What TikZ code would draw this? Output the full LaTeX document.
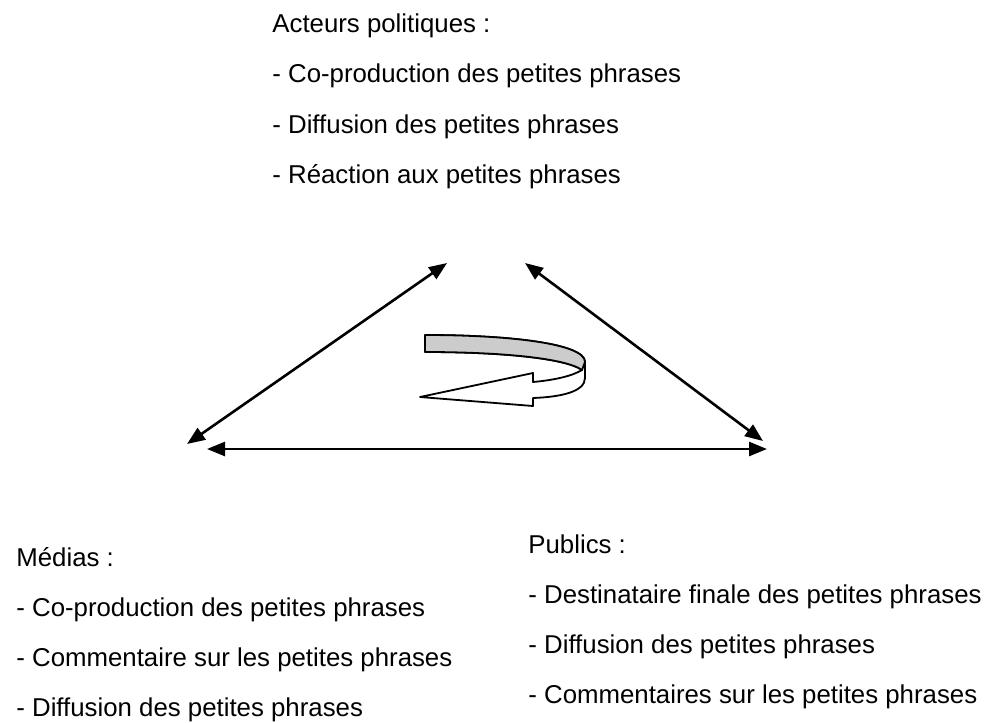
\documentclass[tikz,border=0pt]{standalone}
\usepackage{fontspec}
\setmainfont{Liberation Sans}
\usepackage{xcolor}
\definecolor{ribbon}{rgb}{0.80,0.80,0.80}
\usetikzlibrary{arrows.meta, positioning}

\begin{document}
\begin{tikzpicture}
[x=0.5pt, y=-0.5pt,
 >={Triangle[length=9pt,width=7pt]},
 node distance=25pt,
 txt/.style={anchor=base west, inner sep=0pt,
 font=\fontsize{12.9}{15}\selectfont},
 link/.style={<->, line width=1.3pt},
 turn/.style={line width=0.9pt, line join=round},
]
\useasboundingbox (0,0) rectangle (988,722);

% actors at the top
\node[txt] (acteurs) at (272,33) {Acteurs politiques :};
\node[txt, below=of acteurs.base west, anchor=base west] (act1) {- Co-production des petites phrases};
\node[txt, below=of act1.base west, anchor=base west] (act2) {- Diffusion des petites phrases};
\node[txt, below=of act2.base west, anchor=base west] (act3) {- Réaction aux petites phrases};

% media, bottom left
\node[txt] (medias) at (16,566) {Médias :};
\node[txt, below=of medias.base west, anchor=base west] (med1) {- Co-production des petites phrases};
\node[txt, below=of med1.base west, anchor=base west] (med2) {- Commentaire sur les petites phrases};
\node[txt, below=of med2.base west, anchor=base west] (med3) {- Diffusion des petites phrases};

% publics, bottom right
\node[txt] (publics) at (528,553) {Publics :};
\node[txt, below=of publics.base west, anchor=base west] (pub1) {- Destinataire finale des petites phrases};
\node[txt, below=of pub1.base west, anchor=base west] (pub2) {- Diffusion des petites phrases};
\node[txt, below=of pub2.base west, anchor=base west] (pub3) {- Commentaires sur les petites phrases};

% triangle corners
\coordinate (apexL) at (447,263);
\coordinate (apexR) at (525,263);
\coordinate (baseL) at (187,444);
\coordinate (baseR) at (763,441);
\coordinate (floorL) at (207,449);
\coordinate (floorR) at (767,449);

\draw[link] (baseL) -- (apexL);
\draw[link] (apexR) -- (baseR);
\draw[link] (floorL) -- (floorR);

% turning arrow in the middle
\draw[turn, fill=white]
  (425,335) .. controls (505,335) and (585,343) .. (585,362)
  -- (585,378) .. controls (585,392) and (560,397) .. (533,398)
  -- (533,406) -- (420,397) -- (533,373) -- (533,382)
  .. controls (555,380) and (572,376) .. (582,370)
  .. controls (565,358) and (500,352) .. (425,352) -- cycle;
\draw[turn, fill=ribbon]
  (425,335) .. controls (505,335) and (585,343) .. (585,362)
  -- (582,370) .. controls (565,358) and (500,352) .. (425,352) -- cycle;
\end{tikzpicture}
\end{document}
